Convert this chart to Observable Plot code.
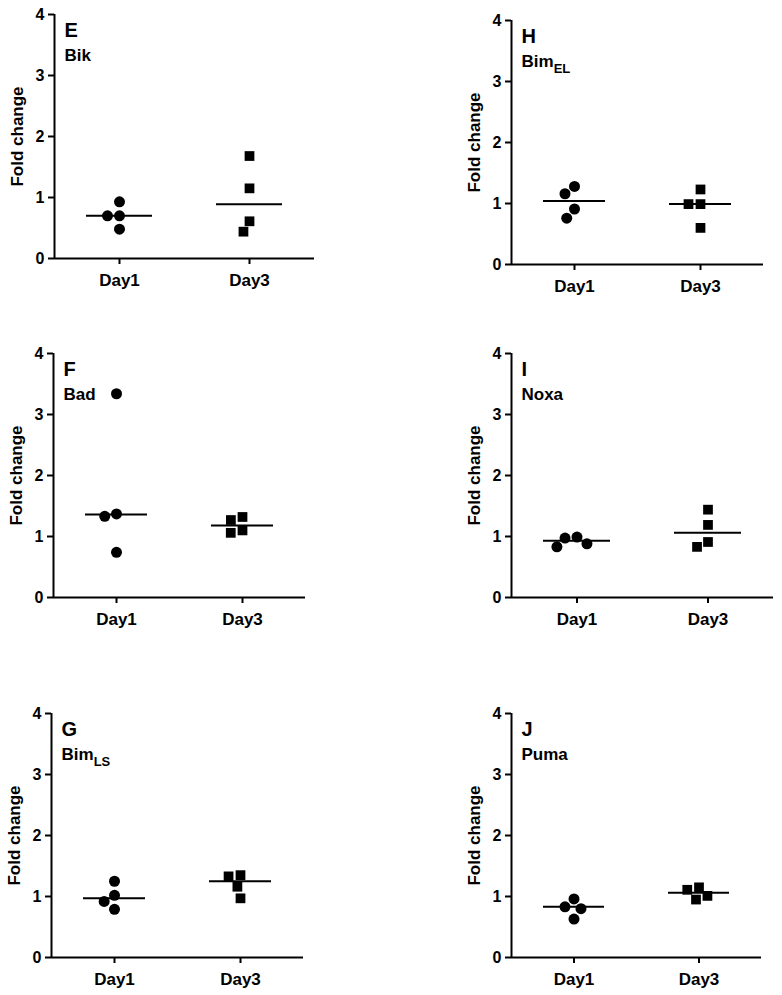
<!DOCTYPE html>
<html>
<head>
<meta charset="utf-8">
<script src="https://cdn.jsdelivr.net/npm/d3@7"></script>
<script src="https://cdn.jsdelivr.net/npm/@observablehq/plot@0.6"></script>
<style>
  html, body { margin: 0; padding: 0; background: #fff; }
  #page { position: relative; width: 782px; height: 995px; background: #fff; overflow: hidden; }
  .panel { position: absolute; }
  .panel svg { overflow: visible; }
  .panel g[aria-label*="axis"] path, .panel g[aria-label*="axis"] line { stroke-width: 2px; }
  .panel g[aria-label^="y-axis"] text { font-size: 16px !important; font-weight: bold; }
  .panel g[aria-label^="fx-axis"] text { font-size: 17px !important; font-weight: bold; }
</style>
</head>
<body>
<div id="page"></div>
<script>
// ---- data ----
const days = ["Day1", "Day3"];
const panelLetters = ["E", "H", "F", "I", "G", "J"];
const geneNames = ["Bik", "Bim_EL", "Bad", "Noxa", "Bim_LS", "Puma"];
const yTicks = [0, 1, 2, 3, 4];

const bikDay1 = [0.93, 0.70, 0.70, 0.48];
const bikDay3 = [1.68, 1.15, 0.61, 0.44];
const bikLines = [0.70, 0.89];

const bimELDay1 = [1.28, 1.16, 0.91, 0.76];
const bimELDay3 = [1.23, 0.99, 0.99, 0.60];
const bimELLines = [1.04, 0.99];

const badDay1 = [3.34, 1.37, 1.33, 0.74];
const badDay3 = [1.32, 1.27, 1.10, 1.06];
const badLines = [1.36, 1.18];

const noxaDay1 = [0.99, 0.975, 0.88, 0.83];
const noxaDay3 = [1.44, 1.19, 0.91, 0.83];
const noxaLines = [0.93, 1.06];

const bimLSDay1 = [1.25, 1.02, 0.92, 0.79];
const bimLSDay3 = [1.35, 1.33, 1.16, 0.97];
const bimLSLines = [0.97, 1.25];

const pumaDay1 = [0.96, 0.83, 0.80, 0.63];
const pumaDay3 = [1.15, 1.11, 1.01, 0.95];
const pumaLines = [0.83, 1.06];

const day1Sets = [bikDay1, bimELDay1, badDay1, noxaDay1, bimLSDay1, pumaDay1];
const day3Sets = [bikDay3, bimELDay3, badDay3, noxaDay3, bimLSDay3, pumaDay3];
const lineSets = [bikLines, bimELLines, badLines, noxaLines, bimLSLines, pumaLines];

// ---- layout (frame boxes in page pixels) ----
const layout = [
  {L: 53, T: 14, W: 261},
  {L: 511, T: 20, W: 252},
  {L: 53, T: 353, W: 252},
  {L: 511, T: 353, W: 262},
  {L: 51, T: 713, W: 252},
  {L: 511, T: 713, W: 250}
];
const frameH = 244;
const mL = 50, mR = 8, mT = 8, mB = 40;

const page = document.getElementById("page");

layout.forEach((box, k) => {
  const points = [
    ...day1Sets[k].map(v => ({day: days[0], value: v})),
    ...day3Sets[k].map(v => ({day: days[1], value: v}))
  ];
  const lines = lineSets[k].map((v, i) => ({day: days[i], value: v}));

  const chart = Plot.plot({
    width: box.W + mL + mR,
    height: frameH + mT + mB,
    marginLeft: mL, marginRight: mR, marginTop: mT, marginBottom: mB,
    style: {fontFamily: "'Liberation Sans', Arial, sans-serif", fontSize: "16px", fontWeight: "bold", color: "black", background: "white"},
    fx: {domain: days, padding: 0, axis: "bottom", tickSize: 6, tickPadding: 9, label: null},
    x: {domain: [0, 1], axis: null},
    y: {domain: [0, 4], ticks: yTicks, tickFormat: d3.format("d"), tickSize: 6, tickPadding: 4, label: null},
    symbol: {domain: days, range: ["circle", "square"]},
    marks: [
      Plot.ruleY([0], {stroke: "black", strokeWidth: 2}),
      Plot.ruleX([0], {fx: [days[0]], stroke: "black", strokeWidth: 2}),
      Plot.tickY(lines, {fx: "day", y: "value", stroke: "black", strokeWidth: 2, insetLeft: 32, insetRight: 32}),
      Plot.dot(points, Plot.dodgeX({anchor: "middle", padding: 1}, {fx: "day", y: "value", symbol: "day", r: 5.5, fill: "black", stroke: "none"})),
      Plot.text([panelLetters[k]], {fx: [days[0]], text: d => d, frameAnchor: "top-left", textAnchor: "start", lineAnchor: "top", dx: 10, dy: 8, fontSize: 20, fontWeight: "bold"}),
      Plot.text([geneNames[k]], {fx: [days[0]], text: d => d, frameAnchor: "top-left", textAnchor: "start", lineAnchor: "top", dx: 10, dy: 34, fontSize: 17, fontWeight: "bold"}),
      Plot.text(["Fold change"], {fx: [days[0]], text: d => d, frameAnchor: "left", rotate: -90, textAnchor: "middle", dx: -37, fontSize: 17, fontWeight: "bold"})
    ]
  });

  // subscripts (e.g. Bim_EL -> Bim with subscript EL)
  chart.querySelectorAll("text").forEach(t => {
    const s = t.textContent;
    if (s.includes("_") && t.children.length === 0) {
      const [main, sub] = s.split("_");
      t.textContent = "";
      const a = document.createElementNS("http://www.w3.org/2000/svg", "tspan");
      a.textContent = main;
      const b = document.createElementNS("http://www.w3.org/2000/svg", "tspan");
      b.textContent = sub;
      b.setAttribute("font-size", "13");
      b.setAttribute("dy", "6");
      t.appendChild(a); t.appendChild(b);
    }
  });

  const div = document.createElement("div");
  div.className = "panel";
  div.style.left = (box.L - mL) + "px";
  div.style.top = (box.T - mT) + "px";
  div.appendChild(chart);
  page.appendChild(div);
});
</script>
</body>
</html>
